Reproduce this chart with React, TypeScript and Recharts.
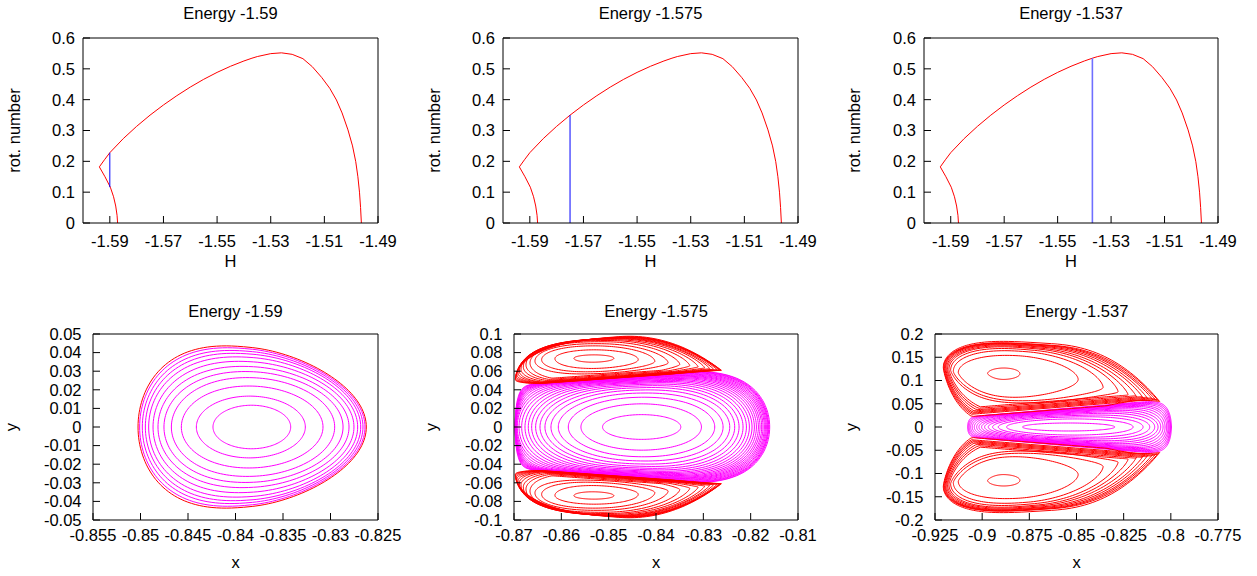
import { Line, LineChart, XAxis, YAxis } from "recharts";

type Pt = { x: number; y: number | null };

const FONT = '"Liberation Sans", Arial, Helvetica, sans-serif';
const FS = 16.5;

// ---------- upper row: rotation number against H ----------
const curveH = [
  -1.5871, -1.5873, -1.5878, -1.5886, -1.5898, -1.5918, -1.5939,
  -1.592, -1.59, -1.585, -1.58, -1.575, -1.57, -1.565, -1.56, -1.555, -1.55, -1.545, -1.54, -1.537, -1.535, -1.53, -1.526,
  -1.522, -1.518, -1.5145, -1.511, -1.508, -1.5055, -1.5034, -1.5012, -1.4995, -1.4983, -1.4975, -1.4969, -1.4965, -1.4962,
];
const curveRot = [
  0, 0.025, 0.055, 0.085, 0.116, 0.15, 0.182,
  0.205, 0.228, 0.2735, 0.3135, 0.3498, 0.3828, 0.413, 0.4408, 0.466, 0.4885, 0.5083, 0.5255, 0.5345, 0.5398, 0.5493, 0.5519,
  0.547, 0.533, 0.507, 0.472, 0.437, 0.399, 0.357, 0.302, 0.25, 0.199, 0.15, 0.1, 0.05, 0,
];
const energyLabels = ["-1.59", "-1.575", "-1.537"];
const markerH = [-1.59, -1.575, -1.537];
const markerFrom = [0.116, 0, 0];
const markerTo = [0.228, 0.3498, 0.5345];
const hTicks = [-1.59, -1.57, -1.55, -1.53, -1.51, -1.49];
const rotTicks = [0, 0.1, 0.2, 0.3, 0.4, 0.5, 0.6];

// ---------- lower row: orbits in the (x, y) plane ----------
const b1XTicks = [-0.855, -0.85, -0.845, -0.84, -0.835, -0.83, -0.825];
const b1YTicks = [-0.05, -0.04, -0.03, -0.02, -0.01, 0, 0.01, 0.02, 0.03, 0.04, 0.05];
const b2XTicks = [-0.87, -0.86, -0.85, -0.84, -0.83, -0.82, -0.81];
const b2YTicks = [-0.1, -0.08, -0.06, -0.04, -0.02, 0, 0.02, 0.04, 0.06, 0.08, 0.1];
const b3XTicks = [-0.925, -0.9, -0.875, -0.85, -0.825, -0.8, -0.775];
const b3YTicks = [-0.2, -0.15, -0.1, -0.05, 0, 0.05, 0.1, 0.15, 0.2];

// energy -1.59: nested orbits (outermost is red)
const b1Left = [-0.85026, -0.85009, -0.84981, -0.84949, -0.84914, -0.84868, -0.84816, -0.84753, -0.84675, -0.8457, -0.84412, -0.84237];
const b1Right = [-0.82623, -0.82637, -0.82658, -0.82682, -0.82714, -0.82753, -0.82805, -0.82868, -0.82956, -0.83079, -0.83265, -0.83419];
const b1HL = [0.0491, 0.0479, 0.046, 0.044, 0.0416, 0.0387, 0.0353, 0.0319, 0.0281, 0.023, 0.017, 0.0118];
const b1HR = [0.0363, 0.0357, 0.035, 0.0342, 0.033, 0.0313, 0.0295, 0.0275, 0.0249, 0.021, 0.0162, 0.0116];
const b1SqL = [2.5, 2.45, 2.4, 2.35, 2.3, 2.25, 2.2, 2.15, 2.1, 2.05, 2, 2];
const b1SqR = [1.9, 1.9, 1.92, 1.94, 1.95, 1.96, 1.97, 1.98, 2, 2, 2, 2];

// energy -1.575: central (magenta) orbits
const b2mLeft = [-0.85129, -0.85586, -0.85853, -0.86064, -0.86219, -0.86346, -0.86451, -0.86543, -0.86627, -0.86698, -0.86768, -0.86838, -0.86894, -0.8693, -0.86945, -0.86955, -0.86962, -0.86966, -0.86969, -0.86971, -0.86973, -0.86974, -0.86975, -0.86976];
const b2mRight = [-0.83476, -0.8304, -0.82759, -0.82583, -0.82442, -0.82337, -0.82245, -0.82161, -0.8209, -0.82027, -0.81971, -0.81922, -0.81879, -0.81837, -0.81802, -0.81767, -0.81739, -0.81711, -0.81689, -0.81668, -0.81647, -0.81633, -0.81619, -0.81598];
const b2mHL = [0.0133, 0.0247, 0.0312, 0.035, 0.0375, 0.0392, 0.0404, 0.0413, 0.042, 0.0425, 0.0429, 0.0432, 0.0435, 0.0437, 0.0439, 0.044, 0.0441, 0.0442, 0.0443, 0.0444, 0.0445, 0.0446, 0.0447, 0.0447];
const b2mHR = [0.0133, 0.0251, 0.0328, 0.038, 0.042, 0.0452, 0.0478, 0.05, 0.052, 0.0537, 0.0552, 0.0566, 0.0579, 0.0591, 0.0602, 0.0612, 0.0621, 0.063, 0.064, 0.065, 0.066, 0.0668, 0.0675, 0.068];
const b2mSqL = [2, 2, 2.1, 2.2, 2.4, 2.6, 2.9, 3.2, 3.6, 4, 4.5, 5, 5.6, 6.5, 8, 10, 12, 14, 16, 18, 20, 23, 26, 30];
const b2mSqR = [2, 2, 2.1, 2.2, 2.3, 2.4, 2.5, 2.6, 2.7, 2.8, 2.9, 3, 3.1, 3.15, 3.2, 3.25, 3.3, 3.35, 3.4, 3.42, 3.45, 3.47, 3.5, 3.5];

// energy -1.575: island (red) orbits, heights measured above the separatrix line
const b2SepX = [-0.87, -0.826];
const b2SepY = [0.0447, 0.0609];
const b2iLeft = [-0.85734, -0.86135, -0.86416, -0.86557, -0.86662, -0.86747, -0.86803, -0.86852, -0.86887, -0.86915, -0.86937, -0.86951, -0.86961, -0.86968, -0.86972];
const b2iRight = [-0.8489, -0.84376, -0.84025, -0.83743, -0.83497, -0.83286, -0.8311, -0.8297, -0.82864, -0.8278, -0.8271, -0.82668, -0.82639, -0.82625, -0.82618];
const b2iMidL = [0.0245, 0.0256, 0.0255, 0.0245, 0.023, 0.0212, 0.0192, 0.017, 0.015, 0.013, 0.0112, 0.0095, 0.008, 0.0068, 0.006];
const b2iMidR = [0.0214, 0.0181, 0.015, 0.0122, 0.0097, 0.0075, 0.0056, 0.004, 0.0028, 0.0018, 0.0011, 0.0007, 0.0004, 0.0002, 0.0001];
const b2iUpL = [0.0037, 0.01, 0.0157, 0.0195, 0.0231, 0.0259, 0.0283, 0.0305, 0.0321, 0.0335, 0.0347, 0.0358, 0.0365, 0.0372, 0.0375];
const b2iUpR = [0.0037, 0.01, 0.0157, 0.0199, 0.024, 0.0274, 0.0303, 0.0332, 0.0355, 0.0375, 0.0394, 0.041, 0.0423, 0.0435, 0.045];
const b2iDrop = [0.182, 0.455, 0.587, 0.668, 1, 1.05, 1.1, 1.15, 1.2, 1.2, 1.25, 1.25, 1.3, 1.3, 1.3];
const b2iFloor = [0, 0, 0, 0, 0.0048, 0.0037, 0.0027, 0.002, 0.0015, 0.0011, 0.0008, 0.0005, 0.0003, 0.0001, 0];
const b2iSqL = [2, 2, 2.2, 2.4, 2.6, 2.7, 2.8, 2.9, 3, 3, 3, 3, 3, 3, 3];
const b2iSqR = [2, 2, 2, 2, 2, 2, 2, 2, 2, 2, 2, 2, 2, 2, 2];
const b2iTip = [1, 1, 1.1, 1.2, 1.3, 1.4, 1.5, 1.6, 1.7, 1.8, 1.85, 1.9, 1.95, 2, 2];

// energy -1.537: central (magenta) orbits
const b3mLeft = [-0.87859, -0.88706, -0.89147, -0.89447, -0.89677, -0.89871, -0.9003, -0.90171, -0.90294, -0.90418, -0.90524, -0.90612, -0.90682, -0.90735, -0.90771];
const b3mRight = [-0.82971, -0.81999, -0.81471, -0.81118, -0.80854, -0.80677, -0.80536, -0.80412, -0.80306, -0.80218, -0.80147, -0.80095, -0.80042, -0.80006, -0.79971];
const b3mHL = [0.0086, 0.016, 0.018, 0.019, 0.0196, 0.02, 0.0203, 0.0206, 0.0209, 0.0211, 0.0213, 0.0215, 0.0216, 0.0218, 0.0219];
const b3mHR = [0.0086, 0.0186, 0.025, 0.03, 0.035, 0.039, 0.0425, 0.0455, 0.048, 0.0505, 0.0525, 0.0545, 0.0562, 0.0578, 0.0595];
const b3mSqL = [2, 2, 2.4, 2.8, 3.3, 4, 5, 6, 8, 10, 13, 17, 22, 28, 40];
const b3mSqR = [2, 2, 2.4, 2.8, 3.2, 3.6, 4.2, 5, 6, 7, 8, 9.5, 11, 12.5, 14];

// energy -1.537: island (red) orbits
const b3SepX = [-0.9077, -0.8059];
const b3SepY = [0.0219, 0.0548];
const b3iLeft = [-0.89712, -0.91265, -0.91529, -0.91671, -0.91759, -0.91829, -0.91882, -0.91935, -0.91971, -0.92006, -0.92041, -0.92059];
const b3iRight = [-0.88, -0.84912, -0.83589, -0.82795, -0.82265, -0.81824, -0.81471, -0.81206, -0.80942, -0.80765, -0.80642, -0.80589];
const b3iMidL = [0.0893, 0.0966, 0.1, 0.103, 0.105, 0.106, 0.107, 0.108, 0.1085, 0.109, 0.1095, 0.11];
const b3iMidR = [0.0838, 0.0615, 0.04, 0.028, 0.02, 0.014, 0.01, 0.007, 0.0045, 0.0025, 0.001, 0];
const b3iUpL = [0.0122, 0.0436, 0.0553, 0.059, 0.0615, 0.0626, 0.0635, 0.0636, 0.0642, 0.0642, 0.0639, 0.066];
const b3iUpR = [0.0122, 0.0436, 0.0633, 0.073, 0.0805, 0.0866, 0.0915, 0.0956, 0.0992, 0.1022, 0.1049, 0.11];
const b3iDrop = [0.142, 0.577, 0.653, 0.713, 1, 1.05, 1.1, 1.15, 1.2, 1.23, 1.26, 1.3];
const b3iFloor = [0, 0, 0, 0, 0.0193, 0.0164, 0.0136, 0.0114, 0.0092, 0.0071, 0.0049, 0];
const b3iSqL = [2, 2.2, 2.5, 2.8, 3, 3.2, 3.4, 3.6, 3.7, 3.8, 3.9, 4];
const b3iSqR = [2, 1.9, 1.9, 2, 2, 2, 2.05, 2.1, 2.1, 2.15, 2.2, 2.2];
const b3iTip = [1, 1.1, 1.2, 1.35, 1.5, 1.6, 1.7, 1.8, 1.9, 2, 2, 2];

// ---------- building the series ----------
const HALF = 80;
type Edge = (u: number, x: number, e: number, leftSide: boolean) => number;

function ringPoints(L: number, R: number, sqL: number, sqR: number, tip: number, top: Edge, bottom: Edge): Pt[] {
  const upper: Pt[] = [];
  const lower: Pt[] = [];
  for (let i = 0; i <= HALF; i++) {
    const t = (Math.PI * i) / HALF;
    const c = Math.cos(t);
    const leftSide = c >= 0;
    const w = leftSide ? -Math.pow(c, 2 / sqL) : Math.pow(-c, 2 / sqR);
    const e = leftSide ? Math.sin(t) : Math.pow(Math.sin(t), tip);
    const u = (w + 1) / 2;
    const x = L + u * (R - L);
    upper.push({ x, y: top(u, x, e, leftSide) });
    lower.push({ x, y: bottom(u, x, e, leftSide) });
  }
  return [...upper, ...lower.reverse()];
}

function eggFamily(left: number[], right: number[], hL: number[], hR: number[], sqL: number[], sqR: number[]) {
  return left.map((L, i) => {
    const h = (u: number) => hL[i] + (hR[i] - hL[i]) * u;
    return ringPoints(L, right[i], sqL[i], sqR[i], 1, (u, _x, e) => h(u) * e, (u, _x, e) => -h(u) * e);
  });
}

function islandFamily(
  left: number[], right: number[], midL: number[], midR: number[], upL: number[], upR: number[],
  drop: number[], floor: number[], sqL: number[], sqR: number[], tip: number[],
  sepX: number[], sepY: number[], sign: number, lowPow: number
) {
  const slope = (sepY[1] - sepY[0]) / (sepX[1] - sepX[0]);
  const base = (x: number) => sepY[0] + slope * (x - sepX[0]);
  return left.map((L, i) => {
    const mid = (u: number) => midL[i] + (midR[i] - midL[i]) * u;
    const up = (u: number) => upL[i] + (upR[i] - upL[i]) * u;
    const topV = (u: number, e: number) => mid(u) + up(u) * e;
    return ringPoints(
      L, right[i], sqL[i], sqR[i], tip[i],
      (u, x, e) => sign * (base(x) + topV(u, e)),
      (u, x, e, leftSide) => {
        const eb = leftSide ? Math.pow(e, lowPow) : e;
        return sign * (base(x) + Math.min(topV(u, e), Math.max(floor[i], mid(u) * (1 - drop[i] * eb))));
      }
    );
  });
}

function joinRings(rings: Pt[][]): Pt[] {
  const out: Pt[] = [];
  rings.forEach((r) => {
    out.push(...r, { x: r[r.length - 1].x, y: null });
  });
  return out;
}

const curveData = curveH.map((h, i) => ({ x: h, y: curveRot[i] }));

const b1Rings = eggFamily(b1Left, b1Right, b1HL, b1HR, b1SqL, b1SqR);
const b1Red = joinRings(b1Rings.slice(0, 1));
const b1Magenta = joinRings(b1Rings.slice(1));

const b2Magenta = joinRings(eggFamily(b2mLeft, b2mRight, b2mHL, b2mHR, b2mSqL, b2mSqR));
const b2Red = joinRings([1, -1].flatMap((s) =>
  islandFamily(b2iLeft, b2iRight, b2iMidL, b2iMidR, b2iUpL, b2iUpR, b2iDrop, b2iFloor, b2iSqL, b2iSqR, b2iTip, b2SepX, b2SepY, s, 1)
));

const b3Magenta = joinRings(eggFamily(b3mLeft, b3mRight, b3mHL, b3mHR, b3mSqL, b3mSqR));
const b3Red = joinRings([1, -1].flatMap((s) =>
  islandFamily(b3iLeft, b3iRight, b3iMidL, b3iMidR, b3iUpL, b3iUpR, b3iDrop, b3iFloor, b3iSqL, b3iSqR, b3iTip, b3SepX, b3SepY, s, 1.5)
));

// ---------- one gnuplot-like frame ----------
type FrameProps = {
  x: number; y: number; w: number; h: number;
  plotLeft: number; plotTop: number; plotBottom: number;
  xDomain: [number, number]; xTicks: number[];
  yDomain: [number, number]; yTicks: number[];
  xGap: number; yGap: number;
  children: React.ReactNode;
};

const TICK = 7;
const black = { stroke: "#000", strokeWidth: 1 };

function Frame(p: FrameProps) {
  return (
    <div style={{ position: "absolute", left: p.x, top: p.y }}>
      <LineChart
        width={p.w}
        height={p.h}
        margin={{ top: p.plotTop - 1, right: p.w - 379, bottom: p.h - p.plotBottom - 30, left: 0 }}
      >
        <XAxis
          type="number" dataKey="x" domain={p.xDomain} ticks={p.xTicks} interval={0} allowDataOverflow
          height={30} tickSize={-TICK} tickMargin={p.xGap + TICK}
          axisLine={black} tickLine={black} tick={{ fill: "#000", fontSize: FS }}
        />
        <XAxis
          xAxisId="mirror" orientation="top" type="number" domain={p.xDomain} ticks={p.xTicks} interval={0}
          allowDataOverflow height={1} tickSize={-TICK} tick={false} axisLine={black} tickLine={black}
        />
        <YAxis
          type="number" domain={p.yDomain} ticks={p.yTicks} interval={0} allowDataOverflow
          width={p.plotLeft} tickSize={-TICK} tickMargin={p.yGap + TICK}
          axisLine={black} tickLine={black} tick={{ fill: "#000", fontSize: FS }}
        />
        <YAxis
          yAxisId="mirror" orientation="right" type="number" domain={p.yDomain} ticks={p.yTicks} interval={0}
          allowDataOverflow width={1} tickSize={-TICK} tick={false} axisLine={black} tickLine={black}
        />
        {p.children}
      </LineChart>
    </div>
  );
}

const lineProps = { dataKey: "y", dot: false, activeDot: false, isAnimationActive: false, type: "linear" as const, strokeWidth: 1 };

export default function App() {
  const topLefts = [83, 83, 84];
  const botLefts = [93, 94, 95];
  const cols = [0, 420, 840];
  const widths = [420, 420, 417];
  const lower = [
    { xd: [-0.855, -0.825] as [number, number], xt: b1XTicks, yd: [-0.05, 0.05] as [number, number], yt: b1YTicks, magenta: b1Magenta, red: b1Red },
    { xd: [-0.87, -0.81] as [number, number], xt: b2XTicks, yd: [-0.1, 0.1] as [number, number], yt: b2YTicks, magenta: b2Magenta, red: b2Red },
    { xd: [-0.925, -0.775] as [number, number], xt: b3XTicks, yd: [-0.2, 0.2] as [number, number], yt: b3YTicks, magenta: b3Magenta, red: b3Red },
  ];

  return (
    <div style={{ position: "absolute", left: 0, top: 0, width: 1257, height: 576, overflow: "hidden", background: "#fff", fontFamily: FONT }}>
      {energyLabels.map((_, i) => (
        <Frame
          key={"top" + i}
          x={cols[i]} y={0} w={widths[i]} h={290}
          plotLeft={topLefts[i]} plotTop={38} plotBottom={223}
          xDomain={[-1.6, -1.49]} xTicks={hTicks} yDomain={[0, 0.6]} yTicks={rotTicks}
          xGap={12} yGap={8}
        >
          <Line {...lineProps} data={curveData} stroke="#ff0000" />
          <Line
            {...lineProps}
            data={[{ x: markerH[i], y: markerFrom[i] }, { x: markerH[i], y: markerTo[i] }]}
            stroke={i === 2 ? "#6f6fff" : "#0000ff"}
            strokeWidth={i === 2 ? 1.6 : 1}
          />
        </Frame>
      ))}
      {lower.map((d, i) => (
        <Frame
          key={"bot" + i}
          x={cols[i]} y={290} w={widths[i]} h={286}
          plotLeft={botLefts[i]} plotTop={44} plotBottom={230}
          xDomain={d.xd} xTicks={d.xt} yDomain={d.yd} yTicks={d.yt}
          xGap={9.5} yGap={11.5}
        >
          <Line {...lineProps} data={d.magenta} stroke="#ff00ff" />
          <Line {...lineProps} data={d.red} stroke="#ff0000" />
        </Frame>
      ))}
      <svg
        width={1257}
        height={576}
        style={{ position: "absolute", left: 0, top: 0, pointerEvents: "none" }}
        fontFamily={FONT}
        fontSize={FS}
        fill="#000"
      >
        {energyLabels.map((e, i) => {
          const topMid = cols[i] + (topLefts[i] + 378) / 2;
          const botMid = cols[i] + (botLefts[i] + 378) / 2;
          const yx = cols[i] + 20;
          return (
            <g key={"lab" + i}>
              <text x={topMid} y={18.5} textAnchor="middle">{`Energy ${e}`}</text>
              <text x={topMid} y={266.7} textAnchor="middle">H</text>
              <text x={yx} y={130.5} textAnchor="middle" transform={`rotate(-90 ${yx} 130.5)`}>rot. number</text>
              <text x={botMid} y={316.5} textAnchor="middle">{`Energy ${e}`}</text>
              <text x={botMid} y={568.3} textAnchor="middle">x</text>
              <text x={yx - 3.1} y={427} textAnchor="middle" transform={`rotate(-90 ${yx - 3.1} 427)`}>y</text>
            </g>
          );
        })}
      </svg>
    </div>
  );
}
